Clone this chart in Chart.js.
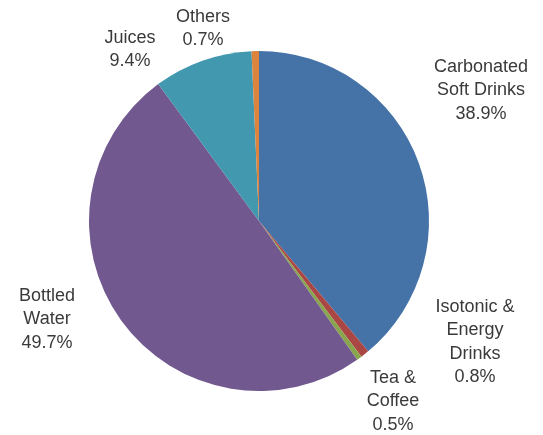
<!DOCTYPE html>
<html>
<head>
<meta charset="utf-8">
<script src="https://cdn.jsdelivr.net/npm/chart.js@4/dist/chart.umd.min.js"></script>
<style>
  html, body { margin: 0; padding: 0; background: #fff; }
  canvas { display: block; }
</style>
</head>
<body>
<canvas id="chart" width="543" height="435"></canvas>
<script>
// data
const categories = ['Carbonated Soft Drinks', 'Isotonic & Energy Drinks', 'Tea & Coffee', 'Bottled Water', 'Juices', 'Others'];
const shares = [38.9, 0.8, 0.5, 49.7, 9.4, 0.7];
const labelLines = [
  ['Carbonated', 'Soft Drinks'],
  ['Isotonic &', 'Energy', 'Drinks'],
  ['Tea &', 'Coffee'],
  ['Bottled', 'Water'],
  ['Juices'],
  ['Others']
];

const colors = ['#4572A7', '#AA4643', '#89A54E', '#71588F', '#4198AF', '#DB843D'];

// where each label block is centred (x, first line y)
const labelAnchors = [[481, 67], [475, 307], [393, 378], [47, 296], [130, 38], [203, 17]];

const outsideLabels = {
  id: 'outsideLabels',
  afterDraw(chart) {
    const ctx = chart.ctx;
    ctx.save();
    ctx.font = '18px "Liberation Sans", Arial, sans-serif';
    ctx.fillStyle = '#3a3a3a';
    ctx.textAlign = 'center';
    ctx.textBaseline = 'middle';
    const lineH = 23.5;
    labelLines.forEach((lines, i) => {
      const all = lines.concat([shares[i].toFixed(1) + '%']);
      const [x, y] = labelAnchors[i];
      all.forEach((t, j) => ctx.fillText(t, x, y + j * lineH));
    });
    ctx.restore();
  }
};

new Chart(document.getElementById('chart'), {
  type: 'pie',
  data: {
    labels: categories,
    datasets: [{
      data: shares,
      backgroundColor: colors,
      borderWidth: 0
    }]
  },
  options: {
    responsive: false,
    animation: false,
    layout: { padding: { left: 89, right: 114, top: 51, bottom: 44 } },
    plugins: {
      legend: { display: false },
      tooltip: { enabled: false }
    }
  },
  plugins: [outsideLabels]
});
</script>
</body>
</html>
